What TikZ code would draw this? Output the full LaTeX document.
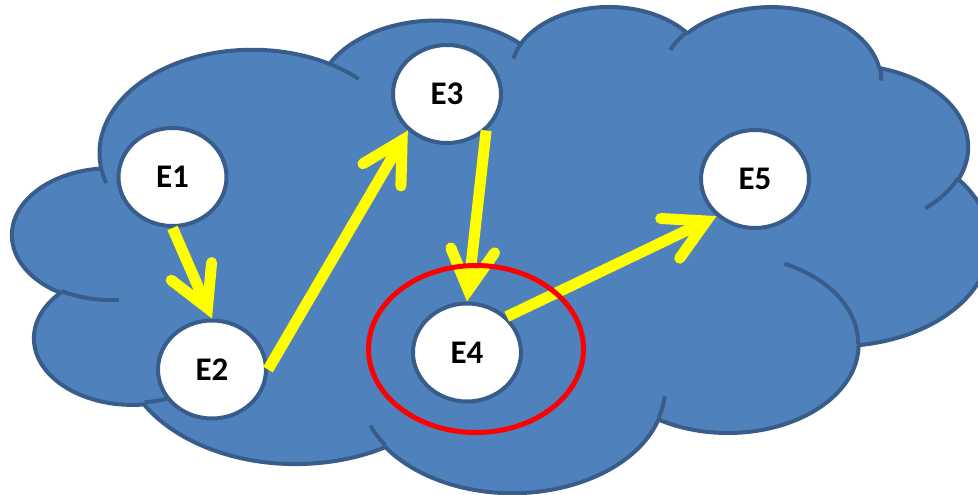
\documentclass[tikz,border=0pt]{standalone}
\usepackage{fontspec}
\setmainfont{Carlito}
\usetikzlibrary{arrows.meta,shapes.geometric}

\definecolor{cloudfill}{HTML}{4F81BD}
\definecolor{cloudline}{HTML}{385D8A}
\definecolor{flowyellow}{HTML}{FFFF00}

% \cloudarc{style}{x radius}{y radius}{start}{sweep}
% Start and sweep are geometric angles measured clockwise with y pointing
% down; the style holds the matching parametric arc for a y-up frame.
\newcommand\cloudarc[5]{%
  \pgfmathsetmacro\cas{atan2((#2)*sin(#4),(#3)*cos(#4))}%
  \pgfmathsetmacro\cae{atan2((#2)*sin((#4)+(#5)),(#3)*cos((#4)+(#5)))}%
  \pgfmathsetmacro\cad{(#5)+mod(\cae-\cas-(#5)+540,360)-180}%
  \pgfmathsetmacro\cas{0-(\cas)}%
  \pgfmathsetmacro\cad{0-(\cad)}%
  \tikzset{#1/.estyle={x radius=#2, y radius=#3, start angle=\cas, delta angle=\cad}}%
}

% outline lobes
\cloudarc{ca1}{675.3}{919.0}{-190.48748}{123.78053}
\cloudarc{ca2}{533.3}{726.7}{-144.10238}{89.94523}
\cloudarc{ca3}{436.5}{594.5}{-145.80792}{99.72302}
\cloudarc{ca4}{485.7}{659.5}{-130.98607}{117.24173}
\cloudarc{ca5}{533.3}{727.3}{-78.70888}{109.02692}
\cloudarc{ca6}{677.5}{922.0}{-46.26725}{130.269}
\cloudarc{ca7}{578.5}{786.7}{0.62502}{114.03333}
\cloudarc{ca8}{675.2}{921.5}{22.4516}{115.17255}
\cloudarc{ca9}{772.0}{1054.3}{66.24263}{75.71102}
\cloudarc{ca10}{436.0}{591.8}{-274.94208}{146.73557}
\cloudarc{ca11}{434.5}{594.5}{-246.8285}{152.51885}
% inner creases
\cloudarc{cc1}{434.5}{594.5}{86.742}{26.4295}
\cloudarc{cc2}{436.0}{591.8}{73.61047}{11.44747}
\cloudarc{cc3}{675.2}{921.5}{137.62415}{14.0811}
\cloudarc{cc4}{675.2}{921.5}{6.45327}{15.99835}
\cloudarc{cc5}{578.5}{786.7}{-70.29235}{70.91737}
\cloudarc{cc6}{533.3}{727.3}{30.31803}{27.7515}
\cloudarc{cc7}{485.7}{659.5}{-13.74433}{14.8589}
\cloudarc{cc8}{485.7}{659.5}{-149.18145}{18.19537}
\cloudarc{cc9}{436.5}{594.5}{-163.49427}{17.68635}
\cloudarc{cc10}{675.3}{919.0}{-66.70695}{12.31935}
\cloudarc{cc11}{675.3}{919.0}{157.65435}{11.85817}

\tikzset{
  cloudbody/.style={fill=cloudfill, draw=cloudline, line width=4pt, line join=round},
  cloudcrease/.style={draw=cloudline, line width=4pt, line cap=butt},
  state/.style={ellipse, minimum width=108pt, minimum height=98pt, inner sep=0pt,
    fill=white, draw=cloudline, line width=4pt,
    font=\fontsize{33}{40}\selectfont\bfseries},
  flow/.style={draw=flowyellow, line width=11pt, line cap=butt,
    -{Straight Barb[length=40pt, width=44pt, line cap=round, line join=miter]}},
  hilite/.style={ellipse, minimum width=215pt, minimum height=167pt, inner sep=0pt,
    draw=red, line width=5pt}
}

\begin{document}
\begin{tikzpicture}[x=1pt, y=-1pt]
  \useasboundingbox (0,0) rectangle (978,495);
  \begin{scope}
    \clip (0,0) rectangle (978,495);
    \begin{scope}[shift={(12.7,5.4)}, x=0.22616pt, y=0.1125pt]
      \path[cloudbody] (390,-1437) arc[ca1] arc[ca2] arc[ca3] arc[ca4] arc[ca5]
        arc[ca6] arc[ca7] arc[ca8] arc[ca9] arc[ca10] arc[ca11] -- cycle;
      \path[cloudcrease]
        (469.3,-2617.7) arc[cc1]
        (692.8,-3489.9) arc[cc2]
        (1647.8,-3909.0) arc[cc3]
        (2882.7,-3475.1) arc[cc4]
        (3412.9,-2295.4) arc[cc5]
        (4179.8,-1535.4) arc[cc6]
        (3832.4,-542.6) arc[cc7]
        (2907.8,-395.2) arc[cc8]
        (2214.1,-472.0) arc[cc9]
        (1400.0,-519.2) arc[cc10]
        (412.7,-1578.9) arc[cc11];
    \end{scope}
  \end{scope}

  \node[state] (e1) at (172.5,177) {E1};
  \node[state] (e2) at (212,369.5) {E2};
  \node[state] (e3) at (447,94) {E3};
  \node[state] (e4) at (467,352.5) {E4};
  \node[state] (e5) at (755,179) {E5};

  \draw[flow] (e1.south) -- (e2.north);
  \draw[flow] (e2.east) -- (e3.223);
  \draw[flow] (e3.317) -- (e4.north);
  \draw[flow] (e4.42) -- (e5.224);

  \node[hilite] (ring) at (476,349) {};
\end{tikzpicture}
\end{document}
